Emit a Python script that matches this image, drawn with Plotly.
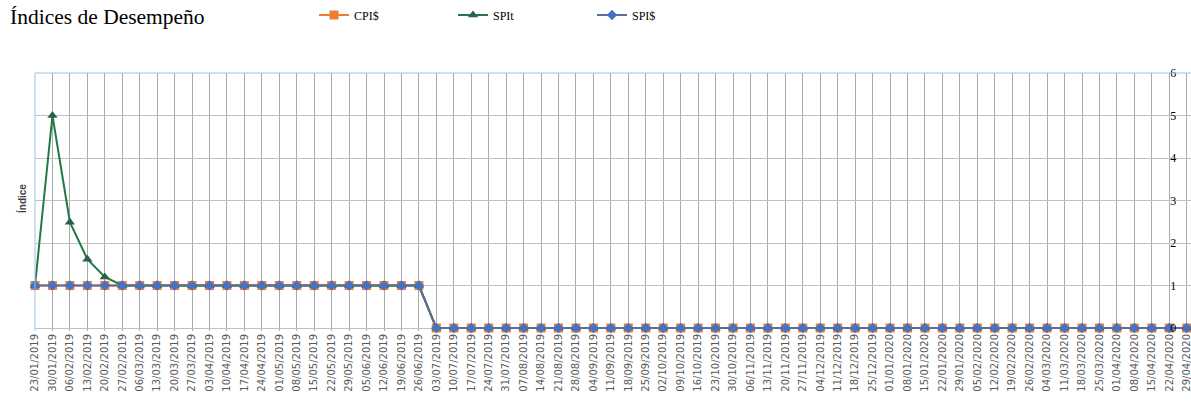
import pandas as pd
import plotly.graph_objects as go

# --- DATOS ---
fechas = [d.strftime("%d/%m/%Y") for d in pd.date_range("2019-01-23", "2020-04-29", freq="7D")]

cpi = [1] * 23 + [0] * 44
spit = [1, 5, 2.49, 1.62, 1.2] + [1] * 18 + [0] * 44
spi = [1] * 23 + [0] * 44

W, H = 1191, 402
ML, MR, MT = 35, 0, 73
MB = H - 331
plot_w = W - ML - MR
plot_h = H - MT - MB

fig = go.Figure()

fig.add_trace(go.Scatter(
    x=fechas, y=cpi, name="CPI$", mode="lines+markers",
    line=dict(color="#ED7D31", width=2),
    marker=dict(symbol="square", size=9, color="#ED7D31"),
    cliponaxis=False,
))
fig.add_trace(go.Scatter(
    x=fechas, y=spit, name="SPIt", mode="lines+markers",
    line=dict(color="#217A45", width=2),
    marker=dict(symbol="triangle-up", size=9, color="#2E5E4E"),
    cliponaxis=False,
))
fig.add_trace(go.Scatter(
    x=fechas, y=spi, name="SPI$", mode="lines+markers",
    line=dict(color="#5B6C9C", width=2),
    marker=dict(symbol="diamond", size=8, color="#4472C4"),
    cliponaxis=False,
))

# posición del eje vertical (cruza en 22/04/2020)
paso = 17.45
x_fin = plot_w / paso
pos_eje = 65 / x_fin

fig.update_layout(
    width=W, height=H,
    margin=dict(l=ML, r=MR, t=MT, b=MB, autoexpand=False),
    plot_bgcolor="white", paper_bgcolor="white",
    title=dict(text="Índices de Desempeño", x=10 / W, xref="container", xanchor="left",
               y=1 - 16 / H, yref="container", yanchor="middle",
               font=dict(family="Liberation Serif", size=21.5, color="black")),
    legend=dict(orientation="h", x=(314 - ML) / plot_w, xanchor="left",
                y=1 + (MT - 15) / plot_h, yanchor="middle",
                font=dict(family="Liberation Serif", size=12, color="black"),
                entrywidth=94, entrywidthmode="pixels",
                bgcolor="rgba(0,0,0,0)"),
    xaxis=dict(type="category", range=[0, x_fin], showgrid=True, gridcolor="#ABABAB",
               gridwidth=1, tickangle=-90, showline=False, zeroline=False, automargin=False,
               tickfont=dict(family="DejaVu Sans", size=10, color="#595959")),
    yaxis=dict(range=[-0.07, 6], dtick=1, showgrid=True, gridcolor="#C0C0C0", zeroline=False,
               side="right", anchor="free", position=pos_eje, automargin=False,
               tickfont=dict(family="Liberation Serif", size=12, color="black")),
    annotations=[dict(text="<b>Índice</b>", textangle=-90, xref="paper", yref="paper",
                      x=(14 - ML) / plot_w, y=(331 - 199) / plot_h, showarrow=False,
                      font=dict(family="Liberation Sans", size=10, color="#404040"))],
    shapes=[
        dict(type="line", xref="paper", yref="paper", x0=0, x1=1, y0=1, y1=1,
             line=dict(color="#9DC3E6", width=1)),
        dict(type="line", xref="paper", yref="paper", x0=0, x1=0, y0=0, y1=1,
             line=dict(color="#9DC3E6", width=1)),
    ],
)

# sin margen de página para que la figura ocupe la ventana entera
fig.write_html("out.html", config={"displayModeBar": False},
               post_script="document.body.style.margin='0';document.body.style.overflow='hidden';")
